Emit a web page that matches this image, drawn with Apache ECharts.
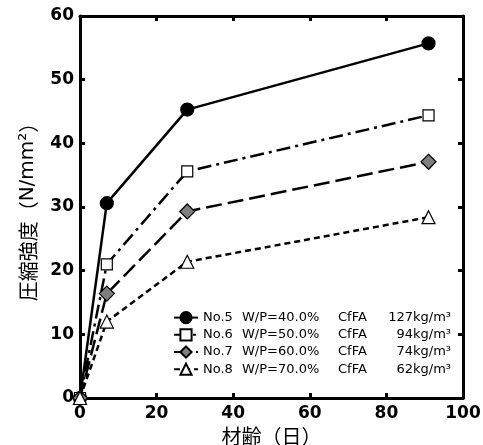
<!DOCTYPE html>
<html><head><meta charset="utf-8">
<script src="https://cdn.jsdelivr.net/npm/echarts@6/dist/echarts.min.js"></script>
<style>html,body{margin:0;padding:0;background:#fff}#c{width:483px;height:445px}</style>
</head><body><div id="c"></div>
<script>
const ages = [0, 7, 28, 91];
const seriesNames = ['No.5', 'No.6', 'No.7', 'No.8'];
const no5 = [0, 30.6, 45.3, 55.7];
const no6 = [0, 21.0, 35.6, 44.4];
const no7 = [0, 16.4, 29.3, 37.1];
const no8 = [0, 12.0, 21.4, 28.4];
const wpLabels = ['W/P=40.0%', 'W/P=50.0%', 'W/P=60.0%', 'W/P=70.0%'];
const cfaLabels = ['127kg/m³', '94kg/m³', '74kg/m³', '62kg/m³'];
const xTicks = [0, 20, 40, 60, 80, 100];
const yTicks = [0, 10, 20, 30, 40, 50, 60];

const values = [no5, no6, no7, no8];
const styles = [
  {symbol: 'circle', size: 13, fill: '#000', dash: 'solid'},
  {symbol: 'rect', size: 11, fill: '#fff', dash: [14, 5, 3, 5]},
  {symbol: 'diamond', size: 15, fill: '#7f7f7f', dash: [16, 6]},
  {symbol: 'triangle', size: 13, fill: '#fff', dash: [6, 4]}
];

const chart = echarts.init(document.getElementById('c'), null, {renderer: 'canvas'});
const labelFont = {color: '#000', fontFamily: 'DejaVu Sans', fontWeight: 'bold', fontSize: 17};
function axisCommon() {
  return {
    axisLine: {onZero: false, lineStyle: {color: '#000', width: 3}},
    axisTick: {inside: true, length: 5, lineStyle: {color: '#000', width: 3}},
    splitLine: {show: false}
  };
}
const legendFont = {fontSize: 13, fontFamily: 'DejaVu Sans', color: '#000'};
const option = {
  animation: false,
  backgroundColor: '#fff',
  grid: {left: 80, right: 20, top: 16, bottom: 47, containLabel: false, outerBoundsMode: 'none'},
  xAxis: [
    Object.assign({type: 'value', min: xTicks[0], max: xTicks[xTicks.length - 1], interval: 20,
      name: '材齢（日）', nameLocation: 'middle', nameGap: 25,
      nameTextStyle: {fontFamily: 'Noto Sans CJK JP', fontSize: 20, color: '#000'},
      axisLabel: Object.assign({margin: 7}, labelFont)}, axisCommon()),
    Object.assign({type: 'value', position: 'top', min: 0, max: 100, interval: 20,
      axisLabel: {show: false}}, axisCommon())
  ],
  yAxis: [
    Object.assign({type: 'value', min: yTicks[0], max: yTicks[yTicks.length - 1], interval: 10,
      name: '{a|圧縮強度（}{b|N/mm²}{a|）}', nameLocation: 'middle', nameGap: 42, nameRotate: 90,
      nameTextStyle: {color: '#000', rich: {
        a: {fontFamily: 'Noto Sans CJK JP', fontSize: 20, color: '#000'},
        b: {fontFamily: 'DejaVu Sans', fontSize: 20, color: '#000'}
      }},
      axisLabel: Object.assign({margin: 6}, labelFont)}, axisCommon()),
    Object.assign({type: 'value', position: 'right', min: 0, max: 60, interval: 10,
      axisLabel: {show: false}}, axisCommon())
  ],
  legend: {
    orient: 'vertical', left: 168, top: 306, itemWidth: 24, itemHeight: 14, itemGap: 4,
    data: seriesNames,
    formatter: function (name) {
      const i = seriesNames.indexOf(name);
      return '{a|' + name + '}{b|' + wpLabels[i] + '}{c|CfFA}{d|' + cfaLabels[i] + '}';
    },
    textStyle: Object.assign({
      rich: {
        a: Object.assign({width: 39}, legendFont),
        b: Object.assign({width: 96}, legendFont),
        c: Object.assign({width: 36}, legendFont),
        d: Object.assign({width: 77, align: 'right'}, legendFont)
      }
    }, legendFont)
  },
  series: values.map(function (v, i) {
    const s = styles[i];
    return {
      name: seriesNames[i], type: 'line',
      data: ages.map(function (a, j) { return [a, v[j]]; }),
      symbol: s.symbol, symbolSize: s.size,
      lineStyle: {color: '#000', width: 2.5, type: s.dash},
      itemStyle: {color: s.fill, borderColor: '#000', borderWidth: 1.2, opacity: 1},
      z: 2 + i
    };
  })
};
chart.setOption(option);
</script></body></html>
